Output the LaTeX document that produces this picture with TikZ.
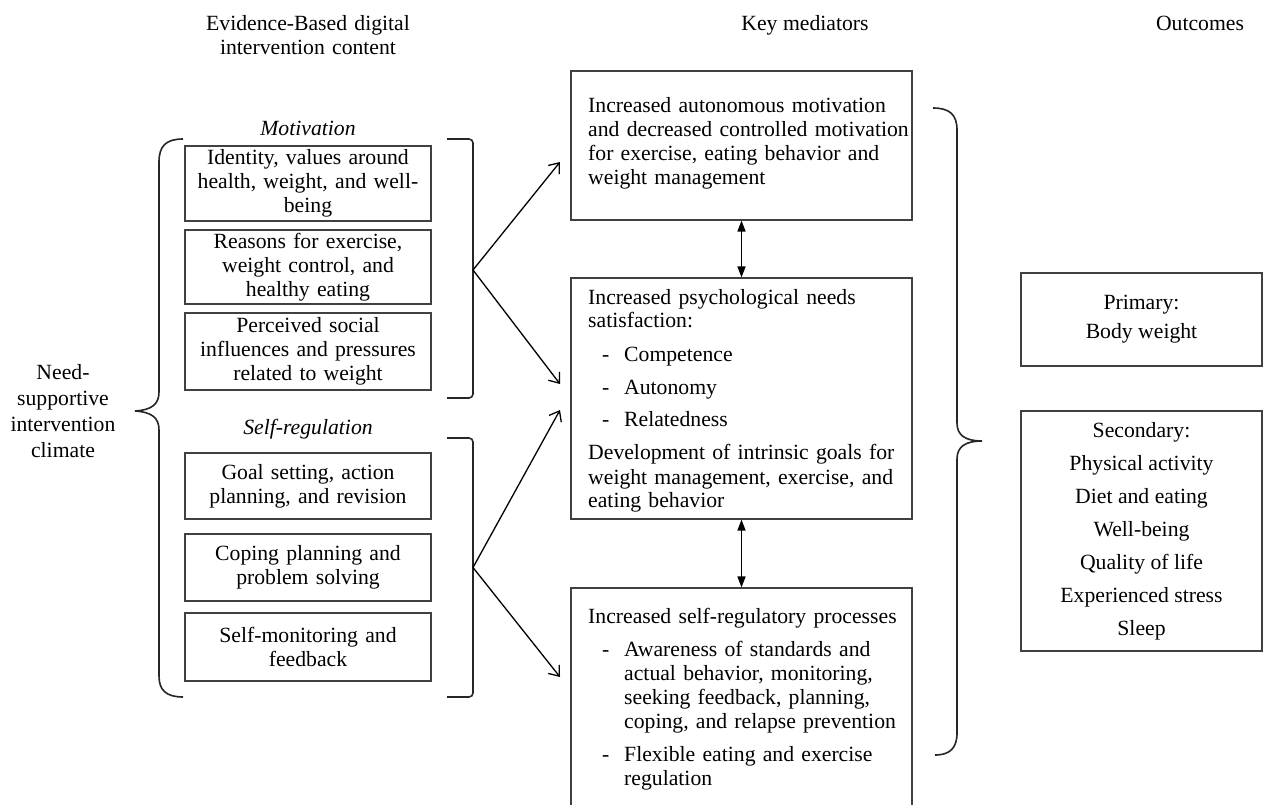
\documentclass[tikz,border=0pt]{standalone}
\usepackage{fontspec}
\setmainfont{Liberation Serif}
\usetikzlibrary{arrows.meta}
\newcommand\myitem{\makebox[36pt][l]{\hspace*{14pt}-}}
\newcommand\myindent{\hspace*{36pt}}
\tikzset{
  txt/.style={font=\fontsize{21.7}{24}\selectfont, inner sep=0pt, text=black},
  lbox/.style={draw=black!75, line width=1.1pt, minimum width=246pt, text width=236pt,
    align=center, inner xsep=5pt, inner ysep=0pt, font=\fontsize{21.7}{24}\selectfont},
  mbox/.style={draw=black!75, line width=1.1pt, minimum width=341pt, inner sep=0pt},
  mtext/.style={txt, text width=340pt, align=left, anchor=base west},
  obox/.style={draw=black!75, line width=1.1pt, minimum width=241pt, inner sep=0pt,
    align=center, font=\fontsize{21.7}{33}\selectfont},
  bracepath/.style={line width=1.6pt, draw=black!85},
  arr/.style={line width=1.3pt, -{Straight Barb[length=9pt,width=14pt]}},
  dbl/.style={line width=1.5pt, {Triangle[length=11pt,width=8pt]}-{Triangle[length=11pt,width=8pt]}},
}
\begin{document}
\begin{tikzpicture}[x=1pt,y=-1pt]
\useasboundingbox (0,0) rectangle (1264,805);
\clip (0,0) rectangle (1264,805);
\fill[white] (0,0) rectangle (1264,805);

% titles
\node[txt, text width=280pt, align=center, anchor=base] (title1) at (308,31) {Evidence-Based digital\\intervention content};
\node[txt, anchor=base] (title2) at (805,31) {Key mediators};
\node[txt, anchor=base] (title3) at (1200,31) {Outcomes};

% left side
\node[txt, text width=120pt, align=center, anchor=base, font=\fontsize{21.7}{26}\selectfont] (need) at (63,379) {Need-\\supportive\\intervention\\climate};
\node[txt, anchor=base, font=\fontsize{21.7}{24}\selectfont\itshape] (mot) at (308,136) {Motivation};
\node[txt, anchor=base, font=\fontsize{21.7}{24}\selectfont\itshape] (selfreg) at (308,434) {Self-regulation};

\node[lbox, minimum height=75pt] (c1) at (308,183.5) {Identity, values around\\health, weight, and well-\\being};
\node[lbox, minimum height=74pt] (c2) at (308,267) {Reasons for exercise,\\weight control, and\\healthy eating};
\node[lbox, minimum height=77pt] (c3) at (308,351.5) {Perceived social\\influences and pressures\\related to weight};
\node[lbox, minimum height=66pt] (c4) at (308,486) {Goal setting, action\\planning, and revision};
\node[lbox, minimum height=67pt] (c5) at (308,567.5) {Coping planning and\\problem solving};
\node[lbox, minimum height=68pt] (c6) at (308,647) {Self-monitoring and\\feedback};

% braces and brackets
\draw[bracepath] (183,139) .. controls (166,139) and (159,146) .. (159,162) -- (159,392)
  .. controls (159,404) and (152,410) .. (135,411) .. controls (152,412) and (159,418) .. (159,430)
  -- (159,676) .. controls (159,690) and (166,697) .. (183,697);
\draw[bracepath, rounded corners=4pt] (447,139) -- (473,139) -- (473,398) -- (447,398);
\draw[bracepath, rounded corners=4pt] (447,438) -- (473,438) -- (473,697) -- (447,697);
\draw[bracepath] (933,108) .. controls (950,108) and (957,115) .. (957,130) -- (957,423)
  .. controls (957,435) and (965,441) .. (982,441) .. controls (965,441) and (957,447) .. (957,459)
  -- (957,733) .. controls (957,748) and (950,755) .. (935,755);

% middle boxes
\node[mbox, minimum height=149pt] (k1) at (741.5,145.5) {};
\node[mbox, minimum height=241pt] (k2) at (741.5,398.5) {};
\node[mbox, minimum height=242pt] (k3) at (741.5,709) {};

\node[mtext] (k1t) at (588,113) {Increased autonomous motivation\\and decreased controlled motivation\\for exercise, eating behavior and\\weight management};
\node[mtext] (k2t) at (588,304) {Increased psychological needs\\satisfaction:\\[9pt]\myitem Competence\\[9pt]\myitem Autonomy\\[9pt]\myitem Relatedness\\[9pt]Development of intrinsic goals for\\weight management, exercise, and\\eating behavior};
\node[mtext] (k3t) at (588,623) {Increased self-regulatory processes\\[9pt]\myitem Awareness of standards and\\\myindent actual behavior, monitoring,\\\myindent seeking feedback, planning,\\\myindent coping, and relapse prevention\\[9pt]\myitem Flexible eating and exercise\\\myindent regulation};

% outcomes
\node[obox, minimum height=93pt, font=\fontsize{21.7}{29}\selectfont] (o1) at (1141.5,319.5) {Primary:\\Body weight};
\node[obox, minimum height=240pt] (o2) at (1141.5,531) {Secondary:\\Physical activity\\Diet and eating\\Well-being\\Quality of life\\Experienced stress\\Sleep};

% arrows
\coordinate (mb) at (473,270);
\coordinate (sb) at (473,567.5);
\coordinate (a1) at (560,162);
\coordinate (a2) at (560,384);
\coordinate (a3) at (560,410);
\coordinate (a4) at (560,677);
\draw[arr] (mb) -- (a1);
\draw[arr] (mb) -- (a2);
\draw[arr] (sb) -- (a3);
\draw[arr] (sb) -- (a4);
\draw[dbl] (k1.south) -- (k2.north);
\draw[dbl] (k2.south) -- (k3.north);
\end{tikzpicture}
\end{document}
